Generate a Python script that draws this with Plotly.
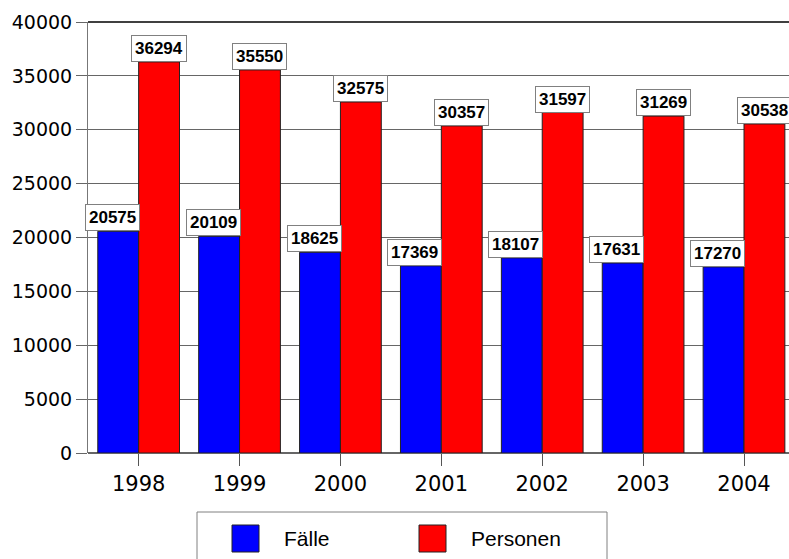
import plotly.graph_objects as go

# data
years = ["1998", "1999", "2000", "2001", "2002", "2003", "2004"]
faelle = [20575, 20109, 18625, 17369, 18107, 17631, 17270]
personen = [36294, 35550, 32575, 30357, 31597, 31269, 30538]
series_names = ["Fälle", "Personen"]
colors = ["#0000ff", "#ff0000"]

bw = 0.405
fig = go.Figure()
fig.add_trace(go.Bar(x=years, y=faelle, name=series_names[0], width=bw, offset=-bw,
                     marker=dict(color=colors[0], line=dict(color="#222", width=1)),
                     showlegend=False))
fig.add_trace(go.Bar(x=years, y=personen, name=series_names[1], width=bw, offset=0,
                     marker=dict(color=colors[1], line=dict(color="#222", width=1)),
                     showlegend=False))

# value labels in boxes
label_font = dict(family="Liberation Sans", size=17, color="black")
for i, v in enumerate(faelle):
    fig.add_annotation(x=i - bw / 2, y=v, text="<b>%d</b>" % v, showarrow=False,
                       yanchor="bottom", xshift=-6, font=label_font,
                       bgcolor="white", bordercolor="#808080", borderwidth=1, borderpad=3)
for i, v in enumerate(personen):
    fig.add_annotation(x=i + bw / 2, y=v, text="<b>%d</b>" % v, showarrow=False,
                       yanchor="bottom", font=label_font,
                       bgcolor="white", bordercolor="#808080", borderwidth=1, borderpad=3)

# top frame line
fig.add_shape(type="line", xref="paper", yref="y domain", x0=0, x1=1, y0=1, y1=1,
              line=dict(color="black", width=1.5))

# legend drawn by hand (bigger swatches than plotly's)
fig.add_shape(type="rect", xref="paper", yref="paper", x0=(197 - 88) / 701, x1=(607 - 88) / 701,
              y0=-107 / 431, y1=-59 / 431, line=dict(color="#808080", width=1), fillcolor="white")
leg_x = [232, 419]
for k in range(2):
    fig.add_shape(type="rect", xref="paper", yref="paper",
                  x0=(leg_x[k] - 88) / 701, x1=(leg_x[k] + 27 - 88) / 701,
                  y0=-99 / 431, y1=-72 / 431,
                  line=dict(color="#222", width=1), fillcolor=colors[k])
    fig.add_annotation(xref="paper", yref="paper", x=(leg_x[k] + 50 - 88) / 701, y=-85.5 / 431,
                       text=series_names[k], showarrow=False, xanchor="left", yanchor="middle",
                       font=dict(family="Liberation Sans", size=21, color="black"))

fig.update_layout(
    width=789, height=559,
    margin=dict(l=88, r=0, t=22, b=106, autoexpand=False),
    paper_bgcolor="white", plot_bgcolor="white",
    barmode="overlay",
    font=dict(family="DejaVu Sans", color="black"),
)
fig.update_xaxes(type="category", range=[-0.502, 6.446], showgrid=False, showline=False,
                 ticks="outside", ticklen=12, tickcolor="#555", tickfont=dict(size=21),
                 zeroline=False)
fig.update_yaxes(range=[0, 40000], dtick=5000, tickformat="d", showgrid=True, gridcolor="#666",
                 gridwidth=1, showline=True, linecolor="#777", linewidth=1, ticks="outside",
                 ticklen=11, tickcolor="#666", tickfont=dict(size=19), zeroline=True,
                 zerolinecolor="#666", zerolinewidth=1.5)

# drop the default 8px page margin so the figure fills the window
fig.write_html("out.html", config={"displayModeBar": False},
               post_script="document.body.style.margin='0';")
